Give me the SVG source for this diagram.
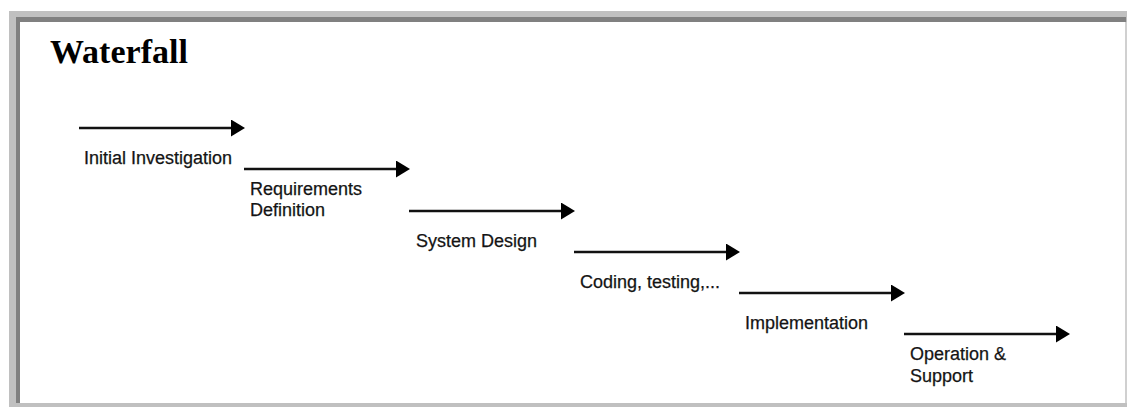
<svg xmlns="http://www.w3.org/2000/svg" width="1127" height="407" viewBox="0 0 1127 407">
  <style>
    .label { font-family: "Liberation Sans", Arial, sans-serif; font-size: 18px; fill: #141414; stroke: #141414; stroke-width: 0.25; }
    .title { font-family: "Liberation Serif", "Times New Roman", serif; font-size: 34px; font-weight: bold; fill: #000; }
    .flow { stroke: #111; stroke-width: 2.6; fill: none; }
  </style>
  <defs>
    <marker id="head" viewBox="0 0 14 17" refX="1" refY="8.5" markerUnits="userSpaceOnUse" markerWidth="14" markerHeight="17" orient="auto" preserveAspectRatio="none">
      <path d="M0,0 L14,8.5 L0,17 Z" fill="#000"/>
    </marker>
  </defs>

  <rect width="1127" height="407" fill="#fff"/>

  <!-- frame -->
  <g id="frame">
    <rect x="9" y="11" width="1118" height="396" fill="#c0c0c0"/>
    <rect x="16" y="17" width="1110" height="386" fill="#808080"/>
    <rect x="20" y="22" width="1106" height="381" fill="#fff"/>
    <rect x="1125" y="22" width="2" height="381" fill="#d0d0d0"/>
  </g>

  <g id="title">
    <text class="title" x="50" y="63">Waterfall</text>
  </g>

  <!-- phase arrows: each line stops where its head begins -->
  <g id="connectors">
    <line class="flow" x1="79" y1="128" x2="232" y2="128" marker-end="url(#head)"/>
    <line class="flow" x1="244" y1="169" x2="397" y2="169" marker-end="url(#head)"/>
    <line class="flow" x1="409" y1="211" x2="562" y2="211" marker-end="url(#head)"/>
    <line class="flow" x1="574" y1="252" x2="727" y2="252" marker-end="url(#head)"/>
    <line class="flow" x1="739" y1="293" x2="892" y2="293" marker-end="url(#head)"/>
    <line class="flow" x1="904" y1="334" x2="1057" y2="334" marker-end="url(#head)"/>
  </g>

  <g id="initial-investigation">
    <text class="label" x="84" y="164">Initial Investigation</text>
  </g>
  <g id="requirements-definition">
    <text class="label" x="250" y="195">Requirements</text>
    <text class="label" x="250" y="216">Definition</text>
  </g>
  <g id="system-design">
    <text class="label" x="416" y="247">System Design</text>
  </g>
  <g id="coding-testing">
    <text class="label" x="580" y="288">Coding, testing,...</text>
  </g>
  <g id="implementation">
    <text class="label" x="745" y="329">Implementation</text>
  </g>
  <g id="operation-support">
    <text class="label" x="910" y="360">Operation &amp;</text>
    <text class="label" x="910" y="382">Support</text>
  </g>
</svg>
